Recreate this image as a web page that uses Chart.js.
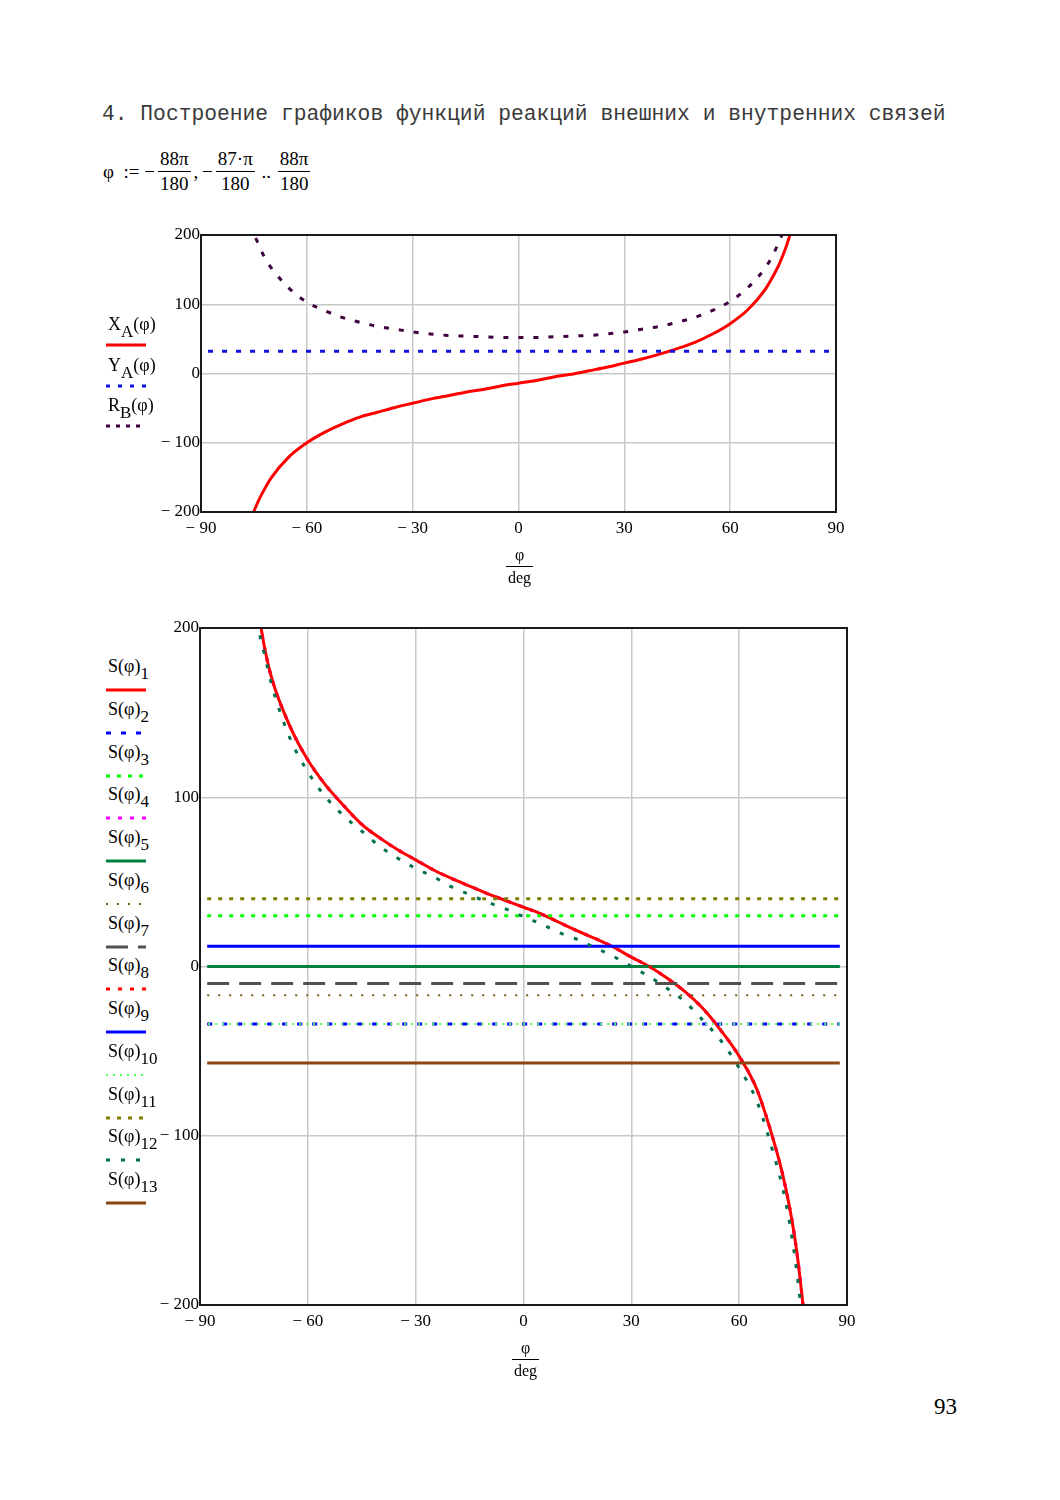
<!DOCTYPE html>
<html lang="ru">
<head>
<meta charset="UTF-8">
<title>Графики функций реакций связей</title>
<script src="https://cdn.jsdelivr.net/npm/chart.js"></script>
<style>
  body { margin: 0; background: #fff; font-family: "Liberation Serif", serif; color: #000; }
  .stranica { position: relative; width: 1060px; height: 1500px; overflow: hidden; }
  .abs { position: absolute; }
  .zagolovok { left: 102px; top: 102px; font-family: "Liberation Mono", monospace; font-size: 21.3px; color: #3a3a3a; white-space: nowrap; }
  .formula { left: 103px; top: 149px; font-size: 19px; display: flex; align-items: center; white-space: nowrap; }
  .drob { display: inline-flex; flex-direction: column; align-items: center; margin: 0 3px; }
  .drob .ch { border-bottom: 1.3px solid #000; padding: 0 2px 2px; line-height: 20px; }
  .drob .zn { line-height: 20px; padding-top: 2px; }
  .legenda-tekst { left: 108px; font-size: 18px; line-height: 20px; white-space: nowrap; }
  .legenda-tekst sub { font-size: 17px; vertical-align: -7px; line-height: 0; }
  .os-podpis { font-size: 16px; text-align: center; width: 27px; }
  .os-podpis .ch { border-bottom: 1.3px solid #000; line-height: 18px; padding-bottom: 2px; }
  .os-podpis .zn { line-height: 18px; padding-top: 2px; }
  canvas { position: absolute; }
</style>
</head>
<body>
<div class="stranica" id="stranica">
  <div class="abs zagolovok">4. Построение графиков функций реакций внешних и внутренних связей</div>
  <div class="abs formula">
    <span>φ&nbsp;&nbsp;:=&nbsp;−</span>
    <span class="drob"><span class="ch">88π</span><span class="zn">180</span></span>
    <span>,&thinsp;−</span>
    <span class="drob"><span class="ch">87·π</span><span class="zn">180</span></span>
    <span>&thinsp;..&thinsp;</span>
    <span class="drob"><span class="ch">88π</span><span class="zn">180</span></span>
  </div>

  <canvas id="grafik1" width="710" height="330" style="left:150px; top:220px;"></canvas>
  <canvas id="grafik2" width="720" height="740" style="left:150px; top:610px;"></canvas>

  <div class="abs os-podpis" style="left:506px; top:546px;"><div class="ch">φ</div><div class="zn">deg</div></div>
  <div class="abs os-podpis" style="left:512px; top:1339px;"><div class="ch">φ</div><div class="zn">deg</div></div>

  <div class="abs" style="left:934px; top:1394px; font-size:23px;">93</div>
</div>

<script>
// углы, градусы
const phi = [-80, -78, -76, -74, -72, -70, -65, -60, -55, -50, -45, -40, -35, -30, -25, -20, -15, -10, -5, 0,
             5, 10, 15, 20, 25, 30, 35, 40, 45, 50, 55, 60, 65, 70, 72, 74, 76, 78, 80];
const phiKraya = [-88, 88];

// график 1: реакции внешних связей
const xA = [-295, -247, -213, -187, -167, -150, -120, -100, -85, -73, -63, -56, -49, -43, -37, -32, -27, -23, -18, -14,
            -10, -5, -1, 4, 9, 15, 21, 28, 36, 45, 57, 72, 92, 122, 139, 159, 185, 219, 267];
const yA = 32;
const rB = [300, 250, 215, 190, 168, 152, 123, 103, 91, 81, 74, 68, 64, 60, 57, 55, 54, 53, 52, 52,
            52, 53, 54, 55, 57, 60, 64, 68, 74, 81, 91, 104, 124, 153, 170, 192, 217, 252, 302];

// график 2: усилия в стержнях S(φ)1..S(φ)13
const s1 = [330, 278, 238, 213, 188, 170, 142, 122, 107, 95, 84, 76, 69, 63, 57, 52, 47.5, 43, 39, 35,
            31, 26, 21, 16.5, 11.5, 5.5, 0, -7, -15, -25, -38, -53, -73, -106, -122, -142, -168, -205, -250];
const s12 = [310, 262, 228, 202, 184, 166, 135, 115, 100, 89, 80, 71, 64, 58, 53, 47, 42.5, 38, 34, 29.5,
             25, 20, 16, 11, 6, 0, -6, -13, -21, -32, -44, -60, -80, -114, -130, -151, -180, -218, -265];
// постоянные усилия (null — кривая)
const sUrovni = [null, -34, 30, null, 0, -17, -10, null, 12, -34, 40, null, -57];

const sCveta = ['#ff0000', '#0000ff', '#00ff00', '#ff00ff', '#008040', '#7a5a10', '#505050',
                '#ff0000', '#0000ff', '#50ff50', '#808000', '#007050', '#8b4513'];
const sShtrih = [[], [5, 10], [4, 7], [4, 8], [], [2, 9], [22, 10], [4, 8], [], [2, 5], [4, 7], [4, 11], []];
const sTolshina = [3, 3, 3, 3, 3, 2, 3, 3, 3, 2, 3, 3, 3];

Chart.defaults.font.family = '"Liberation Serif", serif';
Chart.defaults.font.size = 17;
Chart.defaults.color = '#000';

const ramka = {
  id: 'ramka',
  afterDatasetsDraw(chart) {
    const { ctx, chartArea: a } = chart;
    ctx.save();
    ctx.strokeStyle = '#1a1a1a';
    ctx.lineWidth = 2;
    ctx.strokeRect(a.left, a.top, a.right - a.left, a.bottom - a.top);
    ctx.restore();
  }
};

function minus(v) {
  return v < 0 ? '\u2212 ' + (-v) : String(v);
}

function linia(xs, ys, cvet, shtrih, tolsh, nomer) {
  return {
    data: xs.map((x, i) => ({ x: x, y: ys[i] })),
    borderColor: cvet,
    borderDash: shtrih,
    borderWidth: tolsh,
    borderCapStyle: 'butt',
    pointRadius: 0,
    cubicInterpolationMode: 'monotone',
    fill: false,
    order: -nomer
  };
}

function nastroiki(shirinaY, vysotaX, otstup) {
  return {
    responsive: false,
    animation: false,
    events: [],
    layout: { padding: otstup },
    plugins: { legend: { display: false }, tooltip: { enabled: false } },
    scales: {
      x: {
        type: 'linear', min: -90, max: 90,
        grid: { color: '#c8c8c8', lineWidth: 1.5, drawTicks: false },
        border: { display: false },
        ticks: { stepSize: 30, autoSkip: false, padding: 6, callback: minus },
        afterFit(s) { s.height = vysotaX; }
      },
      y: {
        type: 'linear', min: -200, max: 200,
        grid: { color: '#c8c8c8', lineWidth: 1.5, drawTicks: false },
        border: { display: false },
        ticks: { stepSize: 100, autoSkip: false, padding: 1, callback: minus },
        afterFit(s) { s.width = shirinaY; }
      }
    }
  };
}

// график 1
new Chart(document.getElementById('grafik1'), {
  type: 'line',
  data: {
    datasets: [
      linia(phi, xA, '#ff0000', [], 3, 0),
      linia(phiKraya, phiKraya.map(() => yA), '#1010e0', [5, 9], 3, 1),
      linia(phi, rB, '#400040', [5, 10], 3, 2)
    ]
  },
  options: nastroiki(51, 38, { left: 0, right: 24, top: 15, bottom: 0 }),
  plugins: [ramka]
});

// график 2
const nabor2 = sUrovni.map((u, i) => {
  if (u !== null) {
    return linia(phiKraya, phiKraya.map(() => u), sCveta[i], sShtrih[i], sTolshina[i], i);
  }
  const ys = (i === 11) ? s12 : s1;
  return linia(phi, ys, sCveta[i], sShtrih[i], sTolshina[i], i);
});
nabor2[9].borderDashOffset = 6;

new Chart(document.getElementById('grafik2'), {
  type: 'line',
  data: { datasets: nabor2 },
  options: nastroiki(50, 45, { left: 0, right: 23, top: 18, bottom: 0 }),
  plugins: [ramka]
});

// легенды слева от графиков
function obrazec(cvet, shtrih, tolsh) {
  const ns = 'http://www.w3.org/2000/svg';
  const svg = document.createElementNS(ns, 'svg');
  svg.setAttribute('width', '42');
  svg.setAttribute('height', '6');
  const l = document.createElementNS(ns, 'line');
  l.setAttribute('x1', '0'); l.setAttribute('y1', '3');
  l.setAttribute('x2', '40'); l.setAttribute('y2', '3');
  l.setAttribute('stroke', cvet);
  l.setAttribute('stroke-width', tolsh);
  if (shtrih.length) l.setAttribute('stroke-dasharray', shtrih.join(' '));
  svg.appendChild(l);
  return svg;
}

function legenda(zapisi, verhTeksta, verhLinii, shag) {
  const str = document.getElementById('stranica');
  zapisi.forEach((z, i) => {
    const t = document.createElement('div');
    t.className = 'abs legenda-tekst';
    t.style.top = (verhTeksta + i * shag) + 'px';
    t.innerHTML = z.tekst;
    str.appendChild(t);
    const o = obrazec(z.cvet, z.shtrih, z.tolsh);
    o.classList.add('abs');
    o.style.left = '106px';
    o.style.top = (verhLinii + i * shag - 3) + 'px';
    str.appendChild(o);
  });
}

legenda([
  { tekst: 'X<sub>A</sub>(φ)', cvet: '#ff0000', shtrih: [], tolsh: 3 },
  { tekst: 'Y<sub>A</sub>(φ)', cvet: '#1010e0', shtrih: [4, 8], tolsh: 3 },
  { tekst: 'R<sub>B</sub>(φ)', cvet: '#400040', shtrih: [4, 6], tolsh: 3 }
], 314, 345, 40.5);

legenda(sCveta.map((c, i) => ({
  tekst: 'S(φ)<sub>' + (i + 1) + '</sub>',
  cvet: c, shtrih: sShtrih[i], tolsh: sTolshina[i]
})), 656, 690, 42.75);
</script>
</body>
</html>
